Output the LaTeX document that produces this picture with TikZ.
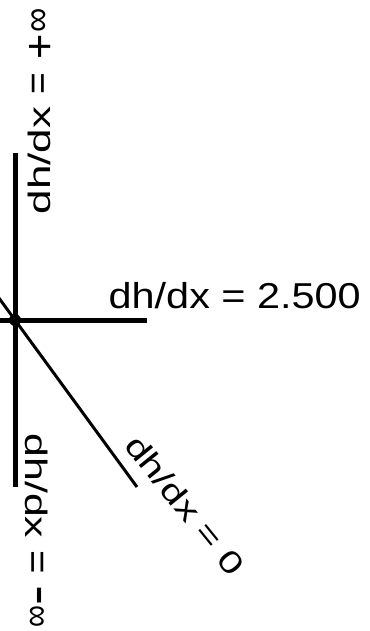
\documentclass[tikz,border=0pt]{standalone}
\usepackage{fontspec}
\setmainfont{Liberation Sans}
\begin{document}
\begin{tikzpicture}[x=1pt,y=-1pt,
  thickline/.style={line width=5pt},
  thinline/.style={line width=3pt},
  bigtext/.style={inner sep=0pt,font=\fontsize{36}{38}\selectfont},
  sidetext/.style={inner sep=0pt,font=\fontsize{31}{33}\selectfont}]
\useasboundingbox (0,0) rectangle (369,631);
\clip (0,0) rectangle (369,631);
\coordinate (c) at (15,320);
\coordinate (vt) at (15,153);
\coordinate (vb) at (15,487);
\coordinate (hl) at (-5,320);
\coordinate (hr) at (147,320);
\coordinate (dl) at (-10,285.8);
\coordinate (dr) at (137,487);
\draw[thickline] (vt) -- (c) -- (vb);
\draw[thickline] (hl) -- (c) -- (hr);
\draw[thinline] (dl) -- (c) -- (dr);
\fill (c) circle (6);
\node[bigtext,anchor=base west] (lh) at (108.5,308)
  {\scalebox{1.15}[1]{dh/dx = 2.500}};
\node[sidetext,anchor=base west,rotate=90] (lu) at (50,214.5)
  {\scalebox{1.42}[1]{dh/dx}\hspace{11.9pt}\scalebox{1.2}[1.2]{=}\hspace{13.2pt}\raisebox{-4pt}{\scalebox{1.4}[1.4]{+}}\hspace{2pt}\raisebox{1pt}{\scalebox{1.1}[1.2]{∞}}};
\node[sidetext,anchor=base west,rotate=-90] (ld) at (25,433.5)
  {\scalebox{1.38}[1]{dh/dx}\hspace{11.8pt}\scalebox{1.3}[1.2]{=}\hspace{11.8pt}\scalebox{1.95}[1.7]{-}\hspace{0pt}\raisebox{1pt}{\scalebox{1.0}[1.2]{∞}}};
\node[sidetext,anchor=center,rotate=-51] (lz) at (185,505) {\scalebox{1.32}[1]{dh/dx = 0}};
\end{tikzpicture}
\end{document}
